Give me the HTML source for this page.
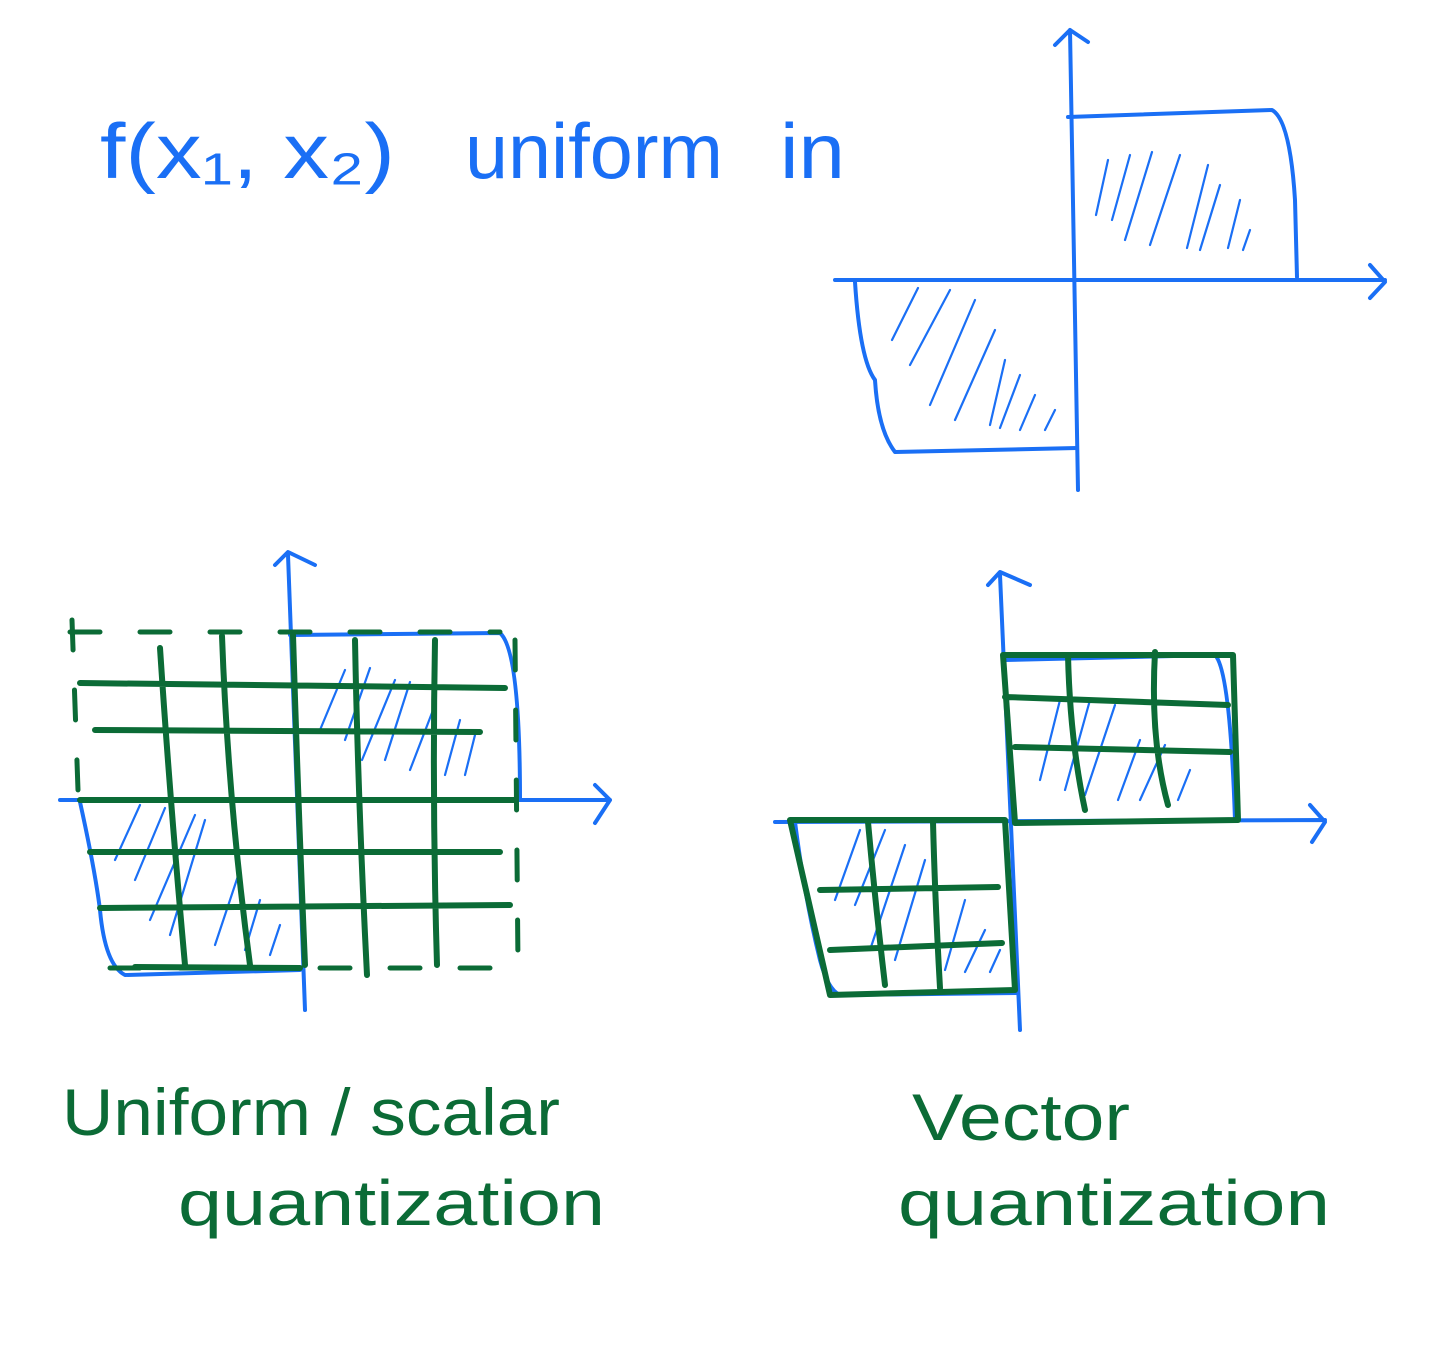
<!DOCTYPE html>
<html><head><meta charset="utf-8"><style>
html,body{margin:0;padding:0;background:#fff;}
svg{display:block;}
.b{stroke:#1a6ff5;fill:none;stroke-width:4;stroke-linecap:round;stroke-linejoin:round}
.h{stroke:#1a6ff5;fill:none;stroke-width:2.2;stroke-linecap:round}
.g{stroke:#0b6b36;fill:none;stroke-width:6;stroke-linecap:round;stroke-linejoin:round}
.gd{stroke:#0b6b36;fill:none;stroke-width:5;stroke-dasharray:30 40;stroke-linecap:round}
.tb{fill:#1a6ff5;font-family:"Liberation Sans",sans-serif;font-weight:300}
.tg{fill:#0b6b36;font-family:"Liberation Sans",sans-serif}
</style></head><body>
<svg width="1429" height="1356" viewBox="0 0 1429 1356">
<text class="tb" x="100" y="178" font-size="78" textLength="295" lengthAdjust="spacingAndGlyphs">f(x₁, x₂)</text>
<text class="tb" x="465" y="178" font-size="78" textLength="258" lengthAdjust="spacingAndGlyphs">uniform</text>
<text class="tb" x="780" y="178" font-size="78" textLength="65" lengthAdjust="spacingAndGlyphs">in</text>

<g>
<path class="b" d="M1070 30 L1078 490 M1055 45 L1070 30 L1088 42"/>
<path class="b" d="M835 280 L1385 280 M1370 265 L1385 282 L1370 298"/>
<path class="b" d="M1068 117 L1272 110 Q1290 120 1295 200 L1297 277"/>
<path class="b" d="M855 282 Q860 360 875 380 Q878 430 895 452 L1077 448"/>
<path class="h" d="M1108 160 L1096 215 M1130 155 L1112 220 M1152 152 L1125 240 M1180 155 L1150 245 M1208 165 L1187 248 M1220 185 L1200 250 M1240 200 L1228 248 M1250 230 L1243 250
M918 288 L892 340 M950 290 L910 365 M975 300 L930 405 M995 330 L955 420 M1005 360 L990 425 M1020 375 L1000 428 M1035 395 L1020 430 M1055 410 L1045 430"/>
</g>

<g>
<path class="b" d="M288 555 L305 1010 M275 565 L288 552 L315 565"/>
<path class="b" d="M60 800 L610 800 M595 785 L610 800 L595 823"/>
<path class="b" d="M290 635 L500 633 Q520 650 520 800"/>
<path class="b" d="M80 802 Q95 870 100 910 Q105 965 125 975 L300 970"/>
<path class="h" d="M345 670 L320 730 M370 668 L345 740 M395 680 L362 760 M410 682 L385 760 M435 705 L410 770 M460 720 L445 775 M475 735 L465 775
M140 805 L115 860 M165 808 L135 880 M195 815 L150 920 M205 820 L170 935 M240 870 L215 945 M260 900 L245 950 M280 925 L270 955"/>
<path class="gd" d="M70 632 L500 632 M72 620 L78 790 M515 640 L518 965 M110 968 L500 968"/>
<path class="g" d="M80 683 L505 688 M95 730 L480 732 M80 800 L515 800 M90 852 L500 852 M100 908 L510 905 M135 967 L300 968
M160 648 Q170 800 185 965 M222 636 Q228 800 250 965 M293 635 Q298 800 305 965 M355 640 Q358 800 367 975 M435 640 Q432 800 437 965"/>
</g>

<g>
<path class="b" d="M1000 575 L1020 1030 M988 585 L1000 572 L1030 585"/>
<path class="b" d="M775 822 L1325 820 M1310 805 L1325 822 L1312 842"/>
<path class="b" d="M1005 660 L1215 655 Q1230 670 1235 820 M795 822 Q805 900 820 960 Q828 990 840 995 L1017 993"/>
<path class="h" d="M1060 700 L1040 780 M1090 700 L1065 790 M1115 705 L1085 795 M1140 740 L1118 800 M1165 745 L1140 800 M1190 770 L1178 800
M860 830 L835 900 M885 830 L855 905 M905 845 L870 950 M925 860 L895 960 M965 900 L945 970 M985 930 L965 972 M1000 950 L990 972"/>
<path class="g" d="M1003 655 L1233 655 L1238 820 L1015 823 L1003 655 M1005 697 L1228 705 M1015 747 L1230 752 M1068 655 Q1070 740 1085 810 M1155 652 Q1150 740 1168 805
M790 820 L1005 820 L1015 990 L830 995 L790 820 M820 890 L998 887 M830 950 L1002 943 M868 822 Q875 900 885 985 M933 822 Q935 900 940 988"/>
</g>

<text class="tg" x="62" y="1135" font-size="66" textLength="498" lengthAdjust="spacingAndGlyphs">Uniform / scalar</text>
<text class="tg" x="178" y="1225" font-size="64" textLength="427" lengthAdjust="spacingAndGlyphs">quantization</text>
<text class="tg" x="912" y="1140" font-size="66" textLength="218" lengthAdjust="spacingAndGlyphs">Vector</text>
<text class="tg" x="898" y="1225" font-size="64" textLength="432" lengthAdjust="spacingAndGlyphs">quantization</text>
</svg>
</body></html>
